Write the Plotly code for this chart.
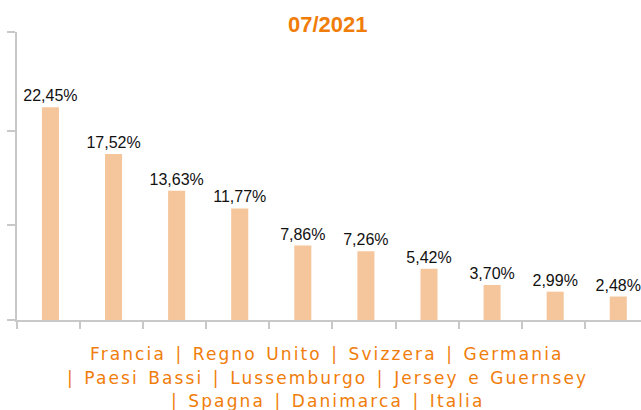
import plotly.graph_objects as go

categories = ["Francia", "Regno Unito", "Svizzera", "Germania", "Paesi Bassi",
              "Lussemburgo", "Jersey e Guernsey", "Spagna", "Danimarca", "Italia"]
values = [22.45, 17.52, 13.63, 11.77, 7.86, 7.26, 5.42, 3.70, 2.99, 2.48]
y_ticks = [0, 10, 20, 30.4]
title_text = "07/2021"
label_lines = [
    "Francia | Regno Unito | Svizzera | Germania",
    "| Paesi Bassi | Lussemburgo | Jersey e Guernsey",
    "| Spagna | Danimarca | Italia",
]

labels = [f"{v:.2f}%".replace(".", ",") for v in values]

ORANGE = "#F07D0A"
BAR = "#F5C69B"
AXIS = "#C8C8C8"

fig = go.Figure(go.Bar(
    x=categories, y=values, text=labels, textposition="outside",
    constraintext="none",
    marker=dict(color=BAR, line=dict(width=0)),
    width=0.27, offset=-0.105,
    textfont=dict(family="Liberation Sans, Arial", size=16, color="#111111"),
    cliponaxis=False, hoverinfo="skip",
))

fig.update_layout(
    width=641, height=410,
    margin=dict(l=17, r=0, t=32, b=90, autoexpand=False),
    paper_bgcolor="white", plot_bgcolor="white",
    showlegend=False,
    xaxis=dict(type="category", categoryorder="array", categoryarray=categories,
               range=[-0.5, 9.39], showticklabels=False, tickson="boundaries",
               ticks="outside", ticklen=7, tickwidth=2, tickcolor=AXIS,
               showline=True, linecolor=AXIS, linewidth=2, showgrid=False,
               zeroline=False),
    yaxis=dict(range=[0, 30.4], tickvals=y_ticks, showticklabels=False,
               ticks="outside", ticklen=8, tickwidth=2, tickcolor=AXIS,
               showline=True, linecolor=AXIS, linewidth=2, showgrid=False,
               zeroline=False),
)

fig.add_annotation(text=f"<b>{title_text}</b>", xref="paper", yref="paper",
                   x=(328 - 17) / 624, y=1 + (32 - 24) / 288, xanchor="center",
                   yanchor="middle", showarrow=False,
                   font=dict(family="Liberation Sans, Arial", size=22, color=ORANGE))

for i, ln in enumerate(label_lines):
    top_px = 342 + 23.5 * i
    fig.add_annotation(
        text=f'<span style="letter-spacing:2.1px;word-spacing:2px">{ln}</span>',
        xref="paper", yref="paper",
        x=(327 - 17) / 624, y=-(top_px - 320) / 288, xanchor="center",
        yanchor="top", showarrow=False, align="center",
        font=dict(family="DejaVu Sans, Verdana", size=17, color=ORANGE))

fig.write_html("out.html", config={"displayModeBar": False, "staticPlot": True},
               post_script="document.body.style.margin='0';document.body.style.overflow='hidden';")
